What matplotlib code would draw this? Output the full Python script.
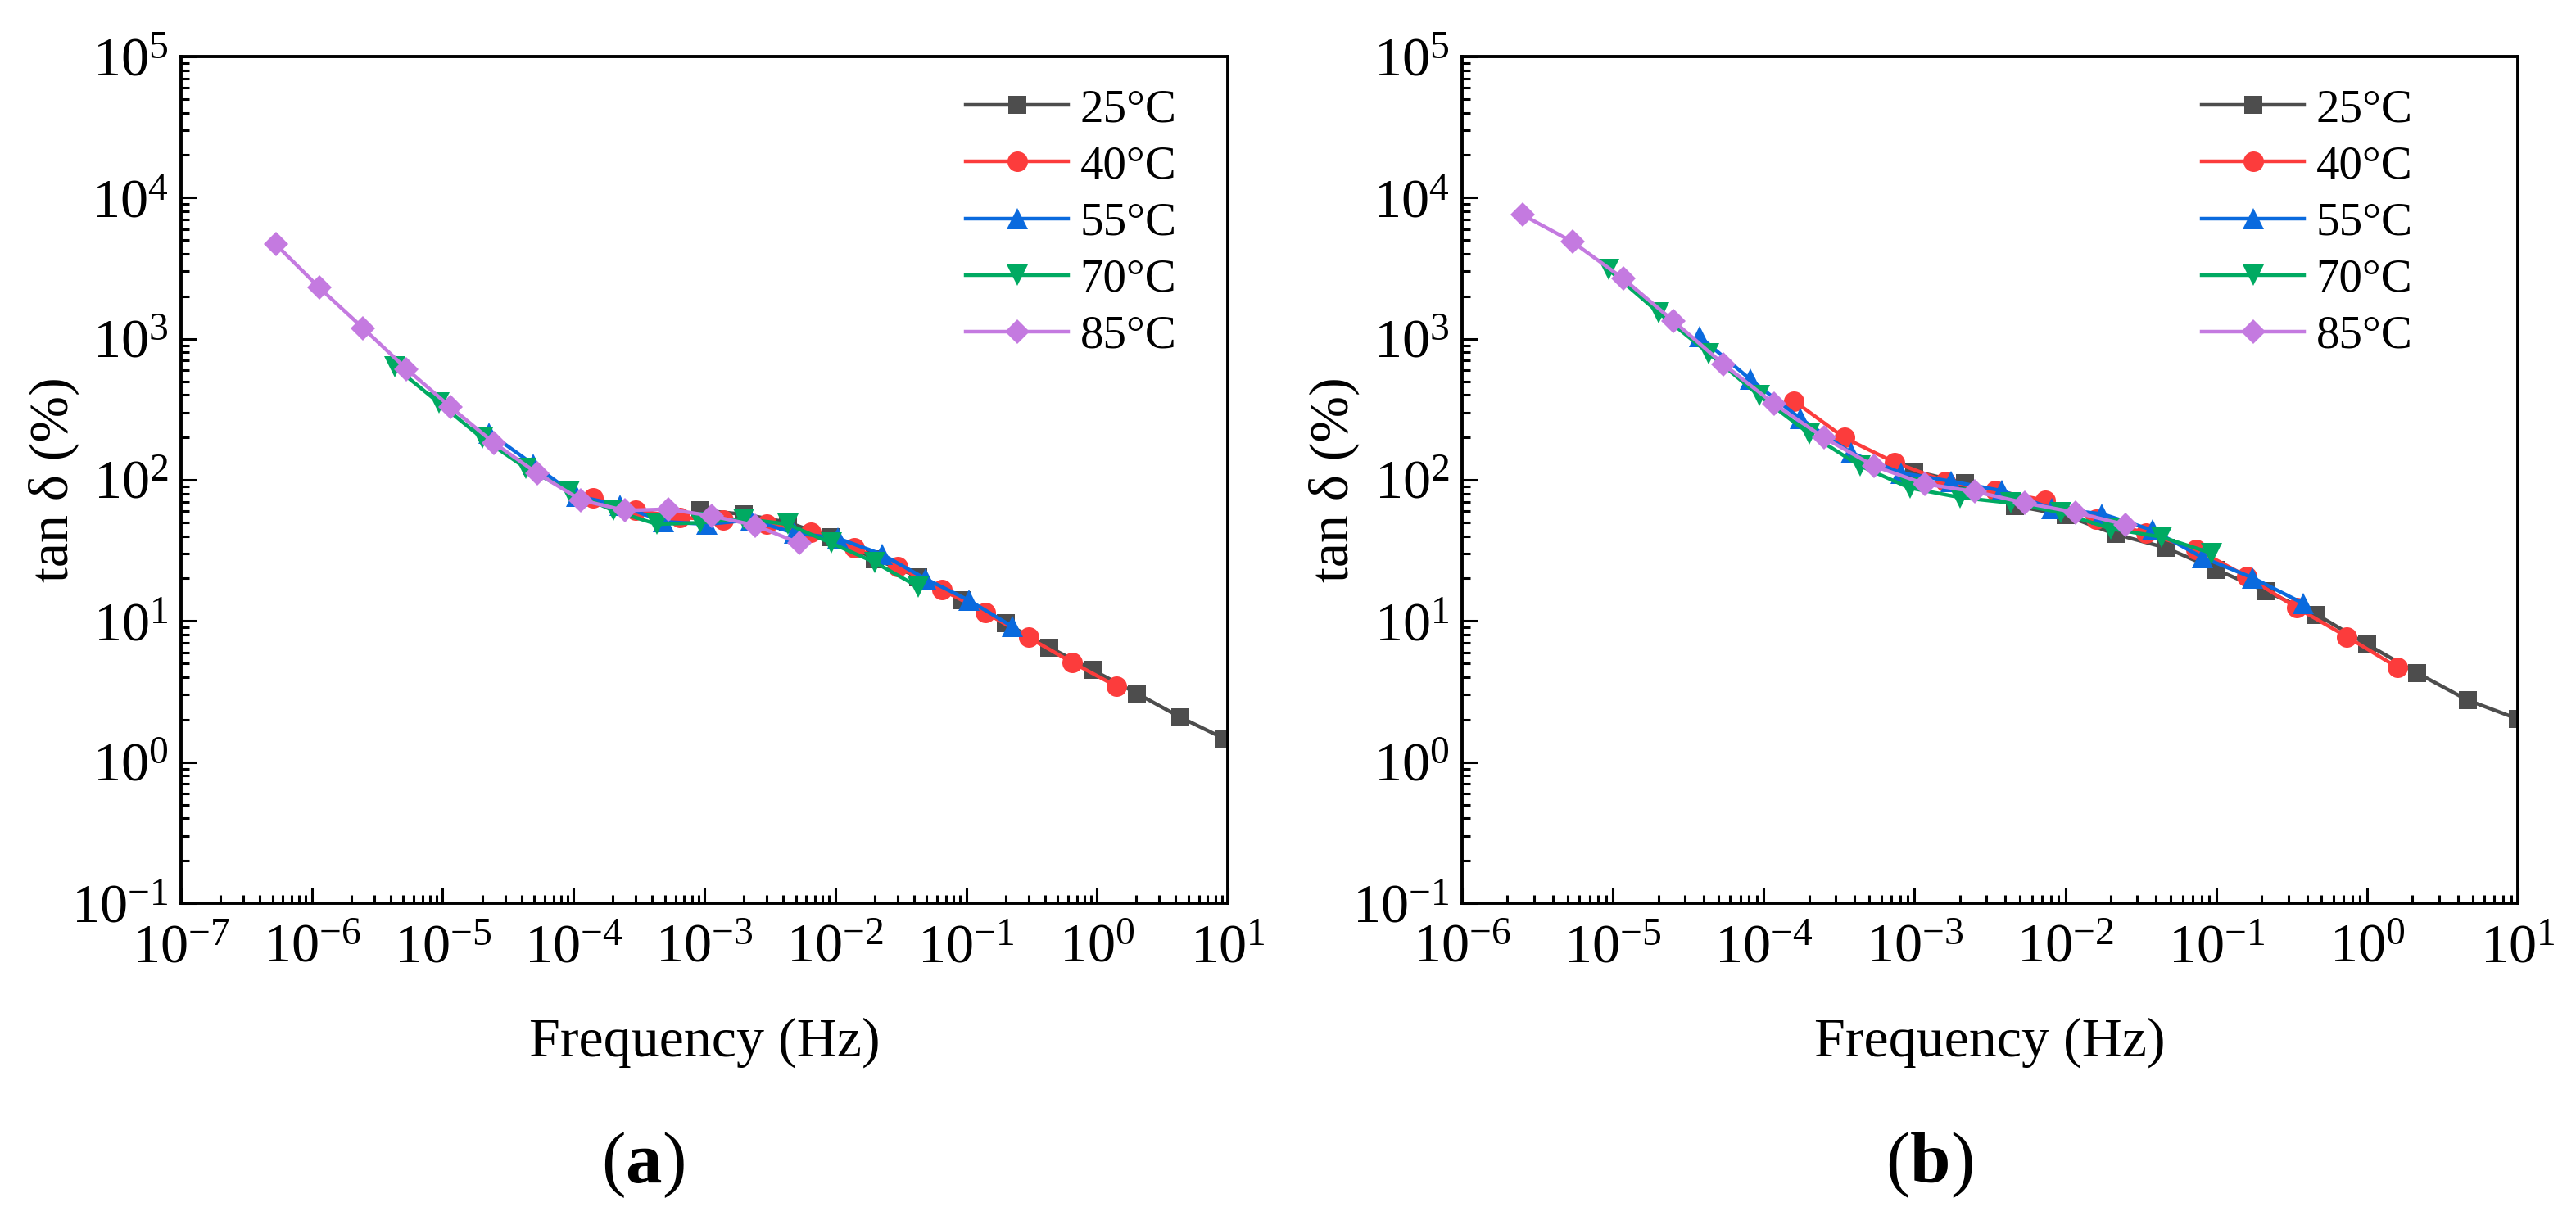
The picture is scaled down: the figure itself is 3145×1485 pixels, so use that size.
import numpy as np
import matplotlib
matplotlib.use("Agg")
import matplotlib.pyplot as plt
from matplotlib.ticker import LogLocator, NullFormatter, LogFormatterMathtext

plt.rcParams['font.family'] = ['Liberation Serif', 'DejaVu Serif']
plt.rcParams['mathtext.fontset'] = 'custom'
plt.rcParams['mathtext.rm'] = 'Liberation Serif'
plt.rcParams['mathtext.it'] = 'Liberation Serif:italic'
plt.rcParams['mathtext.bf'] = 'Liberation Serif:bold'

# ---- data: (a) ----
labels = ['25°C', '40°C', '55°C', '70°C', '85°C']

a_f25 = [9.33, 4.33, 2.01, 0.933, 0.433, 0.201, 0.0933, 0.0433, 0.0201, 0.00933, 0.00433, 0.00201, 0.000933]
a_v25 = [1.47, 2.08, 3.07, 4.48, 6.5, 9.6, 14.1, 20.5, 27.5, 39.0, 50.0, 57.0, 61.0]
a_f40 = [1.40, 0.65, 0.30, 0.14, 0.065, 0.030, 0.014, 0.0065, 0.0030, 0.0014, 0.00065, 0.00030, 0.00014]
a_v40 = [3.46, 5.07, 7.64, 11.5, 16.7, 24.3, 33.0, 42.5, 48.5, 51.9, 54.2, 61.0, 74.5]
a_f55 = [0.227, 0.105, 0.0489, 0.0227, 0.0105, 0.00489, 0.00227, 0.00105, 0.000489, 0.000227, 0.000105, 4.89e-5, 2.27e-5]
a_v55 = [9.1, 14.0, 19.9, 29.7, 38.5, 42.0, 52.0, 48.5, 50.5, 66.0, 77.0, 129.0, 215.0]
a_f70 = [0.0433, 0.0201, 0.00933, 0.00433, 0.00201, 0.000933, 0.000433, 0.000201, 9.33e-5, 4.33e-5, 2.01e-5, 9.33e-6, 4.33e-6]
a_v70 = [17.4, 26.0, 35.6, 48.5, 53.0, 49.7, 48.5, 60.7, 83.0, 121.0, 197.0, 352.0, 629.0]
a_f85 = [5.30e-7, 1.14e-6, 2.46e-6, 5.30e-6, 1.14e-5, 2.46e-5, 5.30e-5, 1.14e-4, 2.46e-4, 5.30e-4, 1.14e-3, 2.46e-3, 5.30e-3]
a_v85 = [4670, 2300, 1190, 610, 330, 183, 111, 72, 60.7, 62, 55.5, 47.5, 35.6]

# ---- data: (b) ----
b_f25 = [10.0, 4.64, 2.15, 1.0, 0.464, 0.215, 0.1, 0.0464, 0.0215, 0.01, 0.00464, 0.00215, 0.001]
b_v25 = [2.02, 2.75, 4.28, 6.83, 11.1, 16.2, 23.1, 33.0, 41.2, 56.0, 65.6, 95.0, 115.0]
b_f40 = [1.59, 0.737, 0.342, 0.159, 0.0737, 0.0342, 0.0159, 0.00737, 0.00342, 0.00159, 0.000737, 0.000342, 0.000159]
b_v40 = [4.69, 7.73, 12.4, 20.7, 32.3, 42.0, 52.6, 71.6, 83.8, 97.7, 133.0, 199.0, 362.0]
b_f55 = [0.378, 0.175, 0.0812, 0.0378, 0.0175, 0.00812, 0.00378, 0.00175, 0.000812, 0.000378, 0.000175, 8.12e-5, 3.78e-5]
b_v55 = [13.3, 20.2, 28.2, 44.0, 57.4, 62.8, 83.8, 97.7, 112.0, 156.0, 272.0, 516.0, 1030.0]
b_f70 = [0.0933, 0.0433, 0.0201, 0.00933, 0.00433, 0.00201, 0.000933, 0.000433, 0.000201, 9.33e-5, 4.33e-5, 2.01e-5, 9.33e-6]
b_v70 = [30.2, 39.4, 45.0, 58.7, 68.6, 75.0, 87.5, 126.0, 212.0, 395.0, 787.0, 1530.0, 3100.0]
b_f85 = [0.0251, 0.0117, 0.00541, 0.00251, 0.00117, 0.000541, 0.000251, 0.000117, 5.41e-5, 2.51e-5, 1.17e-5, 5.41e-6, 2.51e-6]
b_v85 = [48.1, 58.7, 68.6, 82.6, 93.5, 125.0, 199.0, 346.0, 659.0, 1340.0, 2670.0, 4850.0, 7570.0]

colors = ['#4d4d4d', '#fc3c3c', '#0a6ade', '#00aa62', '#c47ae0']
markers = ['s', 'o', '^', 'v', 'D']
msizes = [8, 9, 9.5, 9.5, 7.5]

fig = plt.figure(figsize=(15.725, 7.425), dpi=200)
ax1 = fig.add_axes([0.07027, 0.25724, 0.40636, 0.69630])
ax2 = fig.add_axes([0.56757, 0.25724, 0.40986, 0.69630])


def draw_panel(ax, series, xlim, leg_x):
    for (f, v), c, m, ms, lab in zip(series, colors, markers, msizes, labels):
        ax.plot(f, v, color=c, marker=m, ms=ms, mew=0, lw=1.6, label=lab)
    ax.set_xscale('log')
    ax.set_yscale('log')
    ax.set_xlim(*xlim)
    ax.set_ylim(1e-1, 1e5)
    ax.xaxis.set_major_locator(LogLocator(base=10, numticks=20))
    ax.xaxis.set_minor_locator(LogLocator(base=10, subs=np.arange(2, 10), numticks=20))
    ax.yaxis.set_major_locator(LogLocator(base=10, numticks=20))
    ax.yaxis.set_minor_locator(LogLocator(base=10, subs=np.arange(2, 10), numticks=20))
    ax.xaxis.set_major_formatter(LogFormatterMathtext())
    ax.yaxis.set_major_formatter(LogFormatterMathtext())
    ax.xaxis.set_minor_formatter(NullFormatter())
    ax.yaxis.set_minor_formatter(NullFormatter())
    ax.tick_params(which='both', direction='in', top=False, right=False, width=1.1)
    ax.tick_params(which='major', length=7, labelsize=24.5)
    ax.tick_params(which='minor', length=3.6)
    ax.tick_params(axis='x', which='major', pad=9)
    ax.tick_params(axis='y', which='major', pad=5.5)
    for sp in ax.spines.values():
        sp.set_linewidth(1.4)
    ax.set_xlabel('Frequency (Hz)', fontsize=24.5)
    ax.set_ylabel('tan δ (%)', fontsize=24.5)
    ax.xaxis.set_label_coords(0.5, -0.135)
    ax.yaxis.set_label_coords(-0.097, 0.5)
    ax.legend(loc='upper left', bbox_to_anchor=(leg_x, 0.962), frameon=False,
              fontsize=20.5, borderpad=0, borderaxespad=0, handlelength=2.2,
              handletextpad=0.25, labelspacing=0.3)


draw_panel(ax1, [(a_f25, a_v25), (a_f40, a_v40), (a_f55, a_v55), (a_f70, a_v70), (a_f85, a_v85)],
           (1e-7, 1e1), 0.7496)
draw_panel(ax2, [(b_f25, b_v25), (b_f40, b_v40), (b_f55, b_v55), (b_f70, b_v70), (b_f85, b_v85)],
           (1e-6, 1e1), 0.7005)

fig.text(0.2496, 0.0418, r'($\mathbf{a}$)', fontsize=32, ha='center', va='center')
fig.text(0.749, 0.0418, r'($\mathbf{b}$)', fontsize=32, ha='center', va='center')

fig.savefig('out.png', dpi=200)
